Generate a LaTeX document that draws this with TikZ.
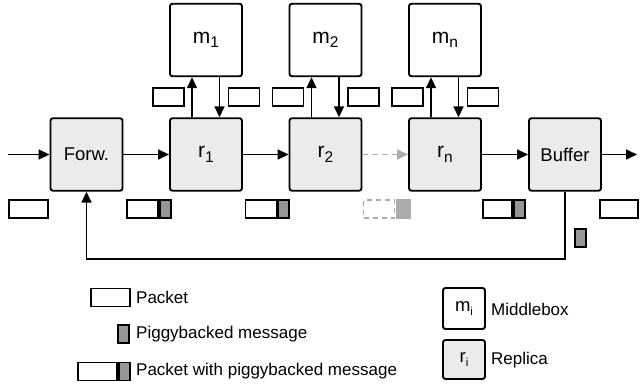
\documentclass[tikz,border=0pt]{standalone}
\usepackage{fontspec}
\setmainfont{Liberation Sans}
\usetikzlibrary{arrows.meta,positioning}

\definecolor{repfill}{RGB}{234,235,237}
\definecolor{piggray}{RGB}{150,150,150}
\definecolor{fadegray}{RGB}{172,172,172}

% lowered index, e.g. m_1
\newcommand{\lowidx}[2][15.5]{\raisebox{-4.5pt}{\fontsize{#1}{#1}\selectfont #2}}

\tikzset{
  mbox/.style={draw, line width=1.9pt, rounded corners=2.5pt, minimum width=72pt,
    minimum height=72.5pt, inner sep=0pt, font=\fontsize{21}{21}\selectfont},
  rbox/.style={mbox, fill=repfill},
  pkt/.style={draw, line width=1.9pt, fill=white, minimum width=31pt,
    minimum height=18pt, inner sep=0pt},
  pig/.style={draw, line width=1.9pt, fill=piggray, minimum width=11pt,
    minimum height=18pt, inner sep=0pt},
  flow/.style={line width=1.6pt, -{Triangle[length=11pt,width=10pt]}},
  legtext/.style={anchor=west, inner sep=0pt, font=\fontsize{17}{17}\selectfont}
}

\begin{document}
\begin{tikzpicture}[x=1pt,y=-1pt]
  % helper grid: comment for final drawing
  % \draw[help lines,step=20] (0,0) grid (640,385);
  \useasboundingbox (0,0) rectangle (640,385);

  % chain
  \node[rbox, font=\fontsize{18.5}{18.5}\selectfont] (forw) at (86.5,154.5) {Forw.};
  \node[rbox] (r1) at (206,154.5)   {r\lowidx{1}};
  \node[rbox] (r2) at (325.5,154.5) {r\lowidx{2}};
  \node[rbox] (rn) at (445,154.5)   {r\lowidx{n}};
  \node[rbox, font=\fontsize{18.5}{18.5}\selectfont] (buf) at (565,154.5) {Buffer};

  % middleboxes
  \node[mbox] (m1) at (206,40)   {m\lowidx{1}};
  \node[mbox] (m2) at (325.5,40) {m\lowidx{2}};
  \node[mbox] (mn) at (445,40)   {m\lowidx{n}};

  \coordinate (in)  at (8,154.5);
  \coordinate (out) at (637,154.5);

  \draw[flow] (in) -- (forw);
  \draw[flow] (forw) -- (r1);
  \draw[flow] (r1) -- (r2);
  \draw[flow, fadegray, dash pattern=on 6pt off 4pt] (r2) -- (rn);
  \draw[flow] (rn) -- (buf);
  \draw[flow] (buf) -- (out);

  % to and from the middleboxes
  \foreach \i in {1,2,n}{
    \draw[flow] ([xshift=-14pt]r\i.north) -- ([xshift=-14pt]m\i.south);
    \draw[flow] ([xshift=13.5pt]m\i.south) -- ([xshift=13.5pt]r\i.north);
    \node[pkt] (pl\i) at ([shift={(-37.5,57)}]m\i.center) {};
    \node[pkt] (pr\i) at ([shift={(38,57)}]m\i.center) {};
  }

  % feedback
  \draw[flow] (buf.south) -- ++(0,67) -| (forw.south);

  % packets on the way
  \node[pkt, minimum width=39pt] (p0) at (28.5,209) {};
  \node[pkt] (p1) at (142.5,209) {};
  \node[pig, right=0pt of p1] (g1) {};
  \node[pkt] (p2) at (261,209) {};
  \node[pig, right=0pt of p2] (g2) {};
  \node[pkt, draw=fadegray, dash pattern=on 5pt off 4pt] (p3) at (379,209) {};
  \node[pig, draw=none, fill=fadegray, minimum width=14.5pt, minimum height=20pt,
    right=0pt of p3] (g3) {};
  \node[pkt, minimum width=29pt] (p4) at (497.5,209) {};
  \node[pig, right=0pt of p4] (g4) {};
  \node[pkt, minimum width=38pt] (p5) at (619,209) {};
  \node[pig] (g5) at (580.5,238) {};

  % legend
  \node[pkt, minimum width=39pt] (lp) at (110.5,297.5) {};
  \node[legtext] (lpt) at (136,297.5) {Packet};
  \node[pig] (lg) at (123.5,334) {};
  \node[legtext] (lgt) at (136,334) {Piggybacked message};
  \node[pkt, minimum width=39pt] (lpp) at (97.5,371.5) {};
  \node[pig, right=0pt of lpp] (lpg) {};
  \node[legtext] (lppt) at (136,371.5) {Packet with piggybacked message};

  \node[mbox, minimum width=42pt, minimum height=41pt,
    font=\fontsize{18.5}{18.5}\selectfont] (lm) at (464,308.5) {m\lowidx[11.5]{i}};
  \node[legtext] (lmt) at (491,309) {Middlebox};
  \node[rbox, minimum width=42pt, minimum height=39pt,
    font=\fontsize{18.5}{18.5}\selectfont] (lr) at (464,359.5) {r\lowidx[11.5]{i}};
  \node[legtext] (lrt) at (491,360) {Replica};
\end{tikzpicture}
\end{document}
